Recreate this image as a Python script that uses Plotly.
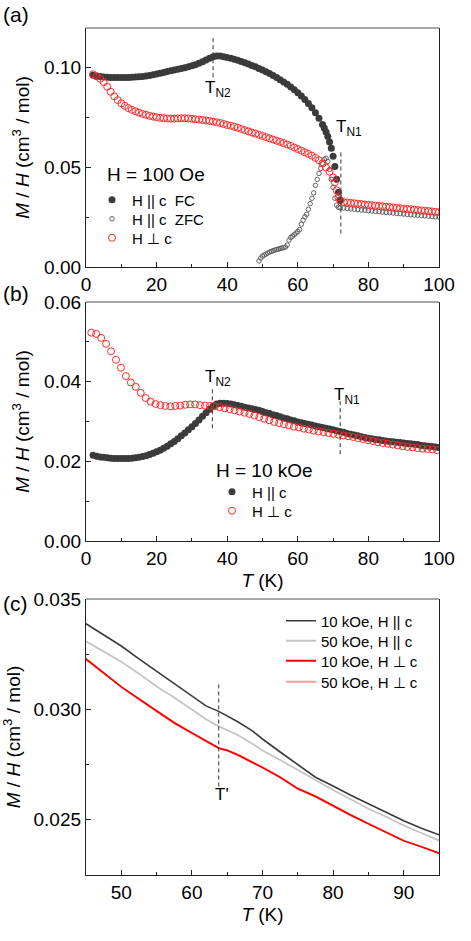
import plotly.graph_objects as go

W, H = 471, 941
ML, MR, MT, MB = 86, 32, 28, 66
PW, PH = W - ML - MR, H - MT - MB
FONT = "Arial, Liberation Sans, sans-serif"

# ---------- (a) H = 100 Oe ----------
T_fc_a = [2, 3, 4, 5, 6, 7, 8, 9, 10, 11, 12, 13, 14, 15, 16, 17, 18, 19, 20, 21,
          22, 23, 24, 25, 26, 27, 28, 29, 30, 31, 32, 33, 34, 35, 36, 37, 38, 39, 40, 41,
          42, 43, 44, 45, 46, 47, 48, 49, 50, 51, 52, 53, 54, 55, 56, 57, 58, 59, 60, 61,
          62, 63, 64, 65, 66, 67, 67.5, 68, 68.5, 69, 69.5, 70, 70.5, 71, 71.5, 72]
M_fc_a = [0.0963, 0.0958, 0.0956, 0.0954, 0.0953, 0.0952, 0.0951, 0.0951, 0.0951, 0.0951,
          0.0952, 0.0953, 0.0954, 0.0955, 0.0957, 0.0959, 0.0962, 0.0965, 0.0969, 0.0973,
          0.0977, 0.0981, 0.0985, 0.0989, 0.0993, 0.0997, 0.1001, 0.1005, 0.1010, 0.1016,
          0.1023, 0.1031, 0.1039, 0.1048, 0.1056, 0.1060, 0.1059, 0.1056, 0.1052, 0.1048,
          0.1043, 0.1038, 0.1032, 0.1026, 0.1019, 0.1012, 0.1005, 0.0997, 0.0989, 0.0980,
          0.0971, 0.0961, 0.0951, 0.0940, 0.0929, 0.0917, 0.0904, 0.0890, 0.0875, 0.0859,
          0.0841, 0.0821, 0.0799, 0.0774, 0.0747, 0.0716, 0.0698, 0.0678, 0.0655, 0.0628,
          0.0596, 0.0556, 0.0505, 0.0440, 0.0375, 0.0335]

T_zfc_a = [49, 49.5, 50, 50.5, 51, 51.5, 52, 52.5, 53, 53.5, 54, 54.5, 55, 55.5, 56, 56.5,
           57, 57.5, 58, 58.5, 59, 59.5, 60, 60.5, 61, 61.5, 62, 62.5, 63, 63.5, 64, 64.5,
           65, 65.5, 66, 66.5, 67, 67.5, 68, 68.5, 69, 69.5, 70, 70.5, 71, 71.5, 72,
           73, 74, 75, 76, 77, 78, 79, 80, 81, 82, 83, 84, 85, 86, 87, 88, 89, 90,
           91, 92, 93, 94, 95, 96, 97, 98, 99, 100]
M_zfc_a = [0.0030, 0.0045, 0.0055, 0.0060, 0.0065, 0.0070, 0.0075, 0.0078, 0.0082, 0.0085,
           0.0088, 0.0090, 0.0093, 0.0095, 0.0097, 0.0100, 0.0110, 0.0135, 0.0148, 0.0155,
           0.0162, 0.0170, 0.0178, 0.0188, 0.0215, 0.0235, 0.0252, 0.0265, 0.0290, 0.0318,
           0.0345, 0.0372, 0.0410, 0.0440, 0.0470, 0.0495, 0.0520, 0.0540, 0.0546, 0.0530,
           0.0490, 0.0440, 0.0400, 0.0345, 0.0310, 0.0300, 0.0297,
           0.0296, 0.0294, 0.0292, 0.0290, 0.0288, 0.0286, 0.0285, 0.0283, 0.0281, 0.0279,
           0.0278, 0.0276, 0.0274, 0.0273, 0.0271, 0.0269, 0.0268, 0.0266, 0.0264, 0.0263,
           0.0261, 0.0260, 0.0258, 0.0257, 0.0255, 0.0254, 0.0252, 0.0251]

T_perp_a = [2, 3, 4, 5, 6, 7, 8, 9, 10, 11, 12, 13, 14, 15, 16, 17, 18, 19, 20, 21,
            22, 23, 24, 25, 26, 27, 28, 29, 30, 31, 32, 33, 34, 35, 36, 37, 38, 39, 40, 41,
            42, 43, 44, 45, 46, 47, 48, 49, 50, 51, 52, 53, 54, 55, 56, 57, 58, 59, 60, 61,
            62, 63, 64, 65, 66, 67, 68, 69, 70, 70.5, 71, 71.5, 72, 73, 74, 75, 76, 77, 78,
            79, 80, 81, 82, 83, 84, 85, 86, 87, 88, 89, 90, 91, 92, 93, 94, 95, 96, 97, 98,
            99, 100]
M_perp_a = [0.0968, 0.0958, 0.0945, 0.0928, 0.0905, 0.0880, 0.0857, 0.0838, 0.0822, 0.0809,
            0.0798, 0.0789, 0.0782, 0.0775, 0.0769, 0.0764, 0.0759, 0.0755, 0.0752, 0.0749,
            0.0747, 0.0746, 0.0745, 0.0745, 0.0746, 0.0747, 0.0747, 0.0746, 0.0744, 0.0742,
            0.0740, 0.0738, 0.0736, 0.0733, 0.0730, 0.0727, 0.0723, 0.0718, 0.0713, 0.0709,
            0.0704, 0.0699, 0.0693, 0.0687, 0.0681, 0.0675, 0.0670, 0.0664, 0.0658, 0.0652,
            0.0646, 0.0640, 0.0634, 0.0628, 0.0622, 0.0615, 0.0608, 0.0600, 0.0592, 0.0584,
            0.0576, 0.0568, 0.0559, 0.0548, 0.0536, 0.0520, 0.0500, 0.0478, 0.0450, 0.0425,
            0.0385, 0.0350, 0.0335, 0.0326, 0.0324, 0.0322, 0.0320, 0.0318, 0.0316, 0.0314,
            0.0312, 0.0310, 0.0308, 0.0306, 0.0305, 0.0303, 0.0301, 0.0299, 0.0297, 0.0295,
            0.0293, 0.0291, 0.0290, 0.0288, 0.0286, 0.0284, 0.0283, 0.0281, 0.0279, 0.0277,
            0.0275]

# ---------- (b) H = 10 kOe ----------
T_par_b = [2, 3, 4, 5, 6, 7, 8, 9, 10, 11, 12, 13, 14, 15, 16, 17, 18, 19, 20, 21,
           22, 23, 24, 25, 26, 27, 28, 29, 30, 31, 32, 33, 34, 35, 36, 37, 38, 39, 40, 41,
           42, 43, 44, 45, 46, 47, 48, 49, 50, 51, 52, 53, 54, 55, 56, 57, 58, 59, 60, 61,
           62, 63, 64, 65, 66, 67, 68, 69, 70, 71, 72, 73, 74, 75, 76, 77, 78, 79, 80, 81,
           82, 83, 84, 85, 86, 87, 88, 89, 90, 91, 92, 93, 94, 95, 96, 97, 98, 99, 100]
M_par_b = [0.0215, 0.0213, 0.0211, 0.0210, 0.0209, 0.0208, 0.0207, 0.0207, 0.0207, 0.0207,
           0.0207, 0.0208, 0.0209, 0.0210, 0.0212, 0.0214, 0.0217, 0.0220, 0.0224, 0.0228,
           0.0233, 0.0238, 0.0244, 0.0250, 0.0257, 0.0264, 0.0271, 0.0279, 0.0287, 0.0295,
           0.0304, 0.0313, 0.0322, 0.0331, 0.0339, 0.0344, 0.0346, 0.0346, 0.0345, 0.0344,
           0.0342, 0.0340, 0.0338, 0.0336, 0.0334, 0.0332, 0.0330, 0.0328, 0.0325, 0.0322,
           0.0320, 0.0317, 0.0315, 0.0312, 0.0309, 0.0307, 0.0304, 0.0302, 0.0299, 0.0297,
           0.0295, 0.0293, 0.0291, 0.0289, 0.0287, 0.0285, 0.0283, 0.0281, 0.0279, 0.0277,
           0.0275, 0.0273, 0.0270, 0.0268, 0.0266, 0.0264, 0.0262, 0.0260, 0.0258, 0.0257,
           0.0255, 0.0254, 0.0252, 0.0251, 0.0250, 0.0249, 0.0248, 0.0247, 0.0246, 0.0245,
           0.0244, 0.0243, 0.0242, 0.0240, 0.0239, 0.0238, 0.0237, 0.0236, 0.0235]

T_perp_b = [1.5, 2.9, 4.3, 5.7, 7.1, 8.5, 9.9, 11.3, 12.7, 14.1, 15.5, 16.9, 18.3, 19.7,
            21.1, 22.5, 23.9, 25.3, 26.7, 28.1, 29.5, 30.9, 32.3, 33.7, 35.1, 36.5, 37.9,
            39.3, 40.7, 42.1, 43.5, 44.9, 46.3, 47.7, 49.1, 50.5, 51.9, 53.3, 54.7, 56.1,
            57.5, 58.9, 60.3, 61.7, 63.1, 64.5, 65.9, 67.3, 68.7, 70.1, 71.5, 72.9, 74.3,
            75.7, 77.1, 78.5, 79.9, 81.3, 82.7, 84.1, 85.5, 86.9, 88.3, 89.7, 91.1, 92.5,
            93.9, 95.3, 96.7, 98.1, 99.5]
M_perp_b = [0.0523, 0.0520, 0.0510, 0.0495, 0.0476, 0.0455, 0.0435, 0.0414, 0.0398, 0.0387,
            0.0372, 0.0359, 0.0350, 0.0344, 0.0341, 0.0339, 0.0338, 0.0339, 0.0340, 0.0342,
            0.0343, 0.0343, 0.0341, 0.0340, 0.0339, 0.0338, 0.0336, 0.0333, 0.0331, 0.0328,
            0.0325, 0.0322, 0.0319, 0.0315, 0.0311, 0.0307, 0.0303, 0.0299, 0.0296, 0.0293,
            0.0290, 0.0287, 0.0285, 0.0282, 0.0280, 0.0277, 0.0275, 0.0273, 0.0271, 0.0269,
            0.0267, 0.0265, 0.0263, 0.0261, 0.0258, 0.0256, 0.0253, 0.0251, 0.0248, 0.0246,
            0.0244, 0.0242, 0.0240, 0.0238, 0.0236, 0.0235, 0.0233, 0.0232, 0.0231, 0.0230,
            0.0228]

# ---------- (c) field dependence near T' ----------
T_c = [45, 47.5, 50, 52.5, 55, 57.5, 60, 62, 63.8, 65, 66.5, 68.5, 70, 72.5, 75, 77.5,
       80, 82.5, 85, 87.5, 90, 92.5, 95]
M_par_10k = [0.03388, 0.03338, 0.03287, 0.03229, 0.03172, 0.03117, 0.03059, 0.03016,
             0.02991, 0.02971, 0.02944, 0.02904, 0.02866, 0.02807, 0.02749, 0.02693,
             0.02653, 0.02611, 0.02573, 0.02534, 0.02496, 0.02462, 0.02432]
M_par_50k = [0.03308, 0.03263, 0.03216, 0.03161, 0.03104, 0.03054, 0.02998, 0.02955,
             0.02923, 0.02906, 0.02884, 0.02846, 0.02814, 0.02771, 0.02725, 0.02678,
             0.02635, 0.02593, 0.02550, 0.02514, 0.02475, 0.02440, 0.02406]
M_perp_10k = [0.03228, 0.03165, 0.03102, 0.03047, 0.02991, 0.02939, 0.02893, 0.02857,
              0.02825, 0.02814, 0.02794, 0.02761, 0.02737, 0.02693, 0.02641, 0.02606,
              0.02562, 0.02521, 0.02482, 0.02443, 0.02405, 0.02378, 0.02349]
M_perp_50k = [0.03228, 0.03165, 0.03102, 0.03047, 0.02991, 0.02939, 0.02893, 0.02857,
              0.02825, 0.02814, 0.02794, 0.02761, 0.02737, 0.02693, 0.02641, 0.02606,
              0.02562, 0.02521, 0.02482, 0.02443, 0.02405, 0.02378, 0.02349]

# transition temperatures and marker line extents
TN2_a, TN1_a = 36, 72.2
TN2_b, TN1_b = 35.8, 72
T_prime = 63.8

DARK = "#3b3b3b"
RED = "#ff2a2a"


def px_x(px):
    return (px - ML) / PW


def px_y(py):
    return (H - MB - py) / PH


def leg(xpx, ypx):
    return dict(x=px_x(xpx), y=px_y(ypx), xanchor="left", yanchor="middle",
                bgcolor="rgba(0,0,0,0)", font=dict(family=FONT, size=15, color="black"))


fig = go.Figure()

# (a)
fig.add_trace(go.Scatter(x=T_zfc_a, y=M_zfc_a, mode="markers", name="H || c\u00a0 ZFC",
                         marker=dict(symbol="circle-open", size=4.5, color="#555555",
                                     line=dict(width=0.9)),
                         xaxis="x", yaxis="y", legend="legend2", showlegend=True))
fig.add_trace(go.Scatter(x=T_fc_a, y=M_fc_a, mode="markers", name="H || c\u00a0 FC",
                         marker=dict(symbol="circle", size=7, color=DARK),
                         xaxis="x", yaxis="y", legend="legend", showlegend=True))
fig.add_trace(go.Scatter(x=T_perp_a, y=M_perp_a, mode="markers", name="H \u22a5 c",
                         marker=dict(symbol="circle-open", size=7, color=RED,
                                     line=dict(width=1)),
                         xaxis="x", yaxis="y", legend="legend3", showlegend=True))

# (b)
fig.add_trace(go.Scatter(x=T_par_b, y=M_par_b, mode="markers", name="H || c",
                         marker=dict(symbol="circle", size=7, color=DARK),
                         xaxis="x2", yaxis="y2", legend="legend4"))
fig.add_trace(go.Scatter(x=T_perp_b, y=M_perp_b, mode="markers", name="H \u22a5 c",
                         marker=dict(symbol="circle-open", size=7, color=RED,
                                     line=dict(width=1)),
                         xaxis="x2", yaxis="y2", legend="legend5"))

# (c)
fig.add_trace(go.Scatter(x=T_c, y=M_perp_50k, mode="lines", name="50 kOe, H \u22a5 c",
                         line=dict(color="#ff9a9a", width=1.8),
                         xaxis="x3", yaxis="y3", legend="legend9"))
fig.add_trace(go.Scatter(x=T_c, y=M_par_50k, mode="lines", name="50 kOe, H || c",
                         line=dict(color="#c4c4c4", width=1.8),
                         xaxis="x3", yaxis="y3", legend="legend7"))
fig.add_trace(go.Scatter(x=T_c, y=M_perp_10k, mode="lines", name="10 kOe, H \u22a5 c",
                         line=dict(color="#ff0000", width=1.8),
                         xaxis="x3", yaxis="y3", legend="legend8"))
fig.add_trace(go.Scatter(x=T_c, y=M_par_10k, mode="lines", name="10 kOe, H || c",
                         line=dict(color="#3a3a3a", width=1.6),
                         xaxis="x3", yaxis="y3", legend="legend6"))

dash = dict(color="#333333", width=1, dash="4px,3px")
for xr, yr, t, y0, y1 in [("x", "y", TN2_a, 0.0953, 0.1155), ("x", "y", TN1_a, 0.0168, 0.058),
                          ("x2", "y2", TN2_b, 0.0283, 0.0385), ("x2", "y2", TN1_b, 0.0218, 0.0354),
                          ("x3", "y3", T_prime, 0.02651, 0.03127)]:
    fig.add_shape(type="line", xref=xr, yref=yr, x0=t, x1=t, y0=y0, y1=y1, line=dash)

# gray top frame lines
for xr, yr in [("x domain", "y domain"), ("x2 domain", "y2 domain"), ("x3 domain", "y3 domain")]:
    fig.add_shape(type="line", xref=xr, yref=yr, x0=0, x1=1, y0=1, y1=1,
                  line=dict(color="#8a8a8a", width=1.3))

ann_font = dict(family=FONT, size=17, color="black")
fig.add_annotation(x=37.5, y=0.0893, xref="x", yref="y", text="T<sub>N2</sub>",
                   showarrow=False, font=ann_font)
fig.add_annotation(x=74.6, y=0.0698, xref="x", yref="y", text="T<sub>N1</sub>",
                   showarrow=False, font=ann_font)
fig.add_annotation(x=37.5, y=0.0408, xref="x2", yref="y2", text="T<sub>N2</sub>",
                   showarrow=False, font=ann_font)
fig.add_annotation(x=74.0, y=0.0363, xref="x2", yref="y2", text="T<sub>N1</sub>",
                   showarrow=False, font=ann_font)
fig.add_annotation(x=64.3, y=0.02613, xref="x3", yref="y3", text="T'",
                   showarrow=False, font=ann_font)

big = dict(family=FONT, size=19, color="black")
fig.add_annotation(x=px_x(105), y=px_y(175), xref="paper", yref="paper", text="H = 100 Oe",
                   showarrow=False, xanchor="left", yanchor="middle", font=big)
fig.add_annotation(x=px_x(214), y=px_y(470), xref="paper", yref="paper", text="H = 10 kOe",
                   showarrow=False, xanchor="left", yanchor="middle", font=big)
for lab, py in [("(a)", 15), ("(b)", 293), ("(c)", 603)]:
    fig.add_annotation(x=px_x(1), y=px_y(py), xref="paper", yref="paper", text=lab,
                       showarrow=False, xanchor="left", yanchor="middle",
                       font=dict(family=FONT, size=21, color="black"))

ytitle = "<i>M</i> / <i>H</i> (cm<sup>3</sup> / mol)"
xtitle = "<i>T</i> (K)"


def xax(rng, dt, mdt, anchor, title=None, tick0=0):
    d = dict(range=rng, dtick=dt, tick0=tick0, anchor=anchor, domain=[0, 1],
             showline=True, linecolor="#222222", linewidth=1.3, mirror=False,
             ticks="inside", ticklen=5, tickwidth=1.2, tickcolor="#222222",
             minor=dict(dtick=mdt, ticks="inside", ticklen=3, tickwidth=1, tickcolor="#222222"),
             tickfont=dict(family=FONT, size=19, color="black"),
             showgrid=False, zeroline=False)
    if title:
        d["title"] = dict(text=title, font=dict(family=FONT, size=19, color="black"), standoff=5)
    return d


def yax(rng, dt, mdt, anchor, dom, fmt, tick0=0):
    return dict(range=rng, dtick=dt, tick0=tick0, anchor=anchor, domain=dom,
                showline=True, linecolor="#222222", linewidth=1.3, mirror=True,
                ticks="inside", ticklen=5, tickwidth=1.2, tickcolor="#222222",
                minor=dict(dtick=mdt, ticks="inside", ticklen=3, tickwidth=1, tickcolor="#222222"),
                tickfont=dict(family=FONT, size=19, color="black"), tickformat=fmt,
                title=dict(text=ytitle, font=dict(family=FONT, size=19, color="black"), standoff=9),
                showgrid=False, zeroline=False)


fig.update_layout(
    width=W, height=H, margin=dict(l=ML, r=MR, t=MT, b=MB),
    paper_bgcolor="white", plot_bgcolor="white", showlegend=True,
    font=dict(family=FONT, color="black"),
    xaxis=xax([0, 100], 20, 10, "y"),
    xaxis2=xax([0, 100], 20, 10, "y2", xtitle),
    xaxis3=xax([45, 95], 10, 5, "y3", xtitle),
    yaxis=yax([0, 0.12], 0.05, 0.025, "x", [px_y(267), 1], ".2f"),
    yaxis2=yax([0, 0.06], 0.02, 0.01, "x2", [px_y(541), px_y(302)], ".2f"),
    yaxis3=yax([0.0225, 0.035], 0.005, 0.0025, "x3", [0, px_y(599)], ".3f", tick0=0.025),
    legend=leg(92, 200), legend2=leg(92, 219), legend3=leg(92, 238),
    legend4=leg(212, 492), legend5=leg(212, 511),
    legend6=leg(281, 621), legend7=leg(281, 641), legend8=leg(281, 661), legend9=leg(281, 682),
)

fig.write_html("out.html", config={"displayModeBar": False},
               post_script="document.body.style.margin='0';")
